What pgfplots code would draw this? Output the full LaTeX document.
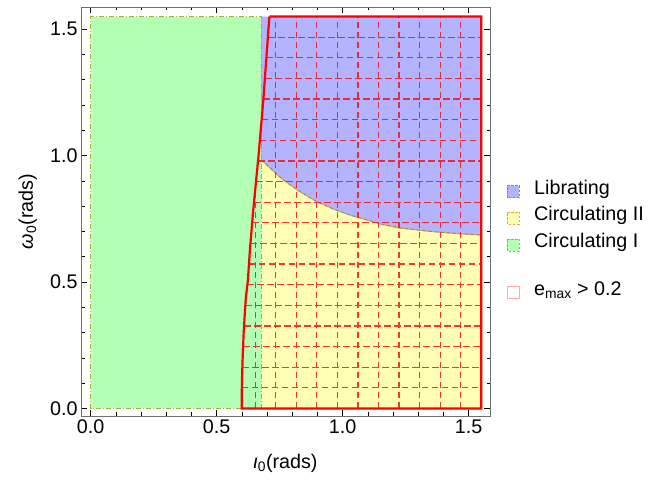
\documentclass[border=0pt]{standalone}
\usepackage{pgfplots}
\pgfplotsset{compat=1.18}
\usepackage{fontspec}
\setmainfont{Liberation Sans}
\definecolor{grn}{RGB}{179,255,179}
\definecolor{blu}{RGB}{179,179,255}
\definecolor{yel}{RGB}{255,255,179}
\definecolor{olive2}{RGB}{165,175,60}
\definecolor{orng}{RGB}{230,165,50}
\definecolor{bluedge}{RGB}{110,130,220}
\definecolor{framegray}{RGB}{110,110,110}
\definecolor{meshred}{RGB}{240,20,30}
\begin{document}
\begin{tikzpicture}[font=\fontsize{19.8}{23}\selectfont]
\useasboundingbox (0,0) rectangle (654bp,483bp);
\begin{axis}[
  at={(81bp,67bp)}, anchor=south west,
  scale only axis, width=409bp, height=409bp,
  xmin=-0.0385, xmax=1.5845, ymin=-0.030, ymax=1.588,
  xtick={0,0.5,1,1.5}, ytick={0,0.5,1,1.5},
  minor tick num=4,
  major tick length=6bp, minor tick length=3.5bp,
  tick style={black, line width=0.6bp},
  axis line style={framegray, line width=0.8bp},
  /pgf/number format/assume math mode=true,
  /pgf/number format/fixed, /pgf/number format/fixed zerofill, /pgf/number format/precision=1,
  xlabel={\textit{ι}\textsubscript{0}(rads)},
  ylabel={\textit{ω}\textsubscript{0}(rads)},
  xlabel style={at={(axis description cs:0.5,-0.115)}, anchor=center},
  ylabel style={at={(axis description cs:-0.13,0.5)}, anchor=center},
  unbounded coords=jump,
]
% Circulating I (green)
\addplot[fill=grn, draw=none] coordinates {(0,0) (0.676,0) (0.676,1.55) (0,1.55)} -- cycle;
% Circulating II (yellow)
\addplot[fill=yel, draw=none] coordinates {
(0.676,0) (1.55,0) (1.55,0.686) (1.45,0.692) (1.35,0.700) (1.227,0.714) (1.161,0.727)
(1.095,0.746) (1.029,0.765) (0.963,0.789) (0.897,0.818) (0.830,0.858) (0.764,0.904)
(0.725,0.939) (0.678,0.983) (0.676,0.983)} -- cycle;
% Librating (blue)
\addplot[fill=blu, draw=none] coordinates {
(0.676,0.983) (0.678,0.983) (0.725,0.939) (0.764,0.904) (0.830,0.858) (0.897,0.818)
(0.963,0.789) (1.029,0.765) (1.095,0.746) (1.161,0.727) (1.227,0.714) (1.35,0.700)
(1.45,0.692) (1.55,0.686) (1.55,1.55) (0.676,1.55)} -- cycle;
% green border
\addplot[olive2, line width=0.9bp, dash pattern=on 5bp off 2bp on 1bp off 2bp] coordinates {(0.676,0) (0,0) (0,1.55) (0.676,1.55) (0.676,0)};
% blue/yellow boundary
\addplot[orng, line width=1.2bp] coordinates {
(0.678,0.983) (0.725,0.939) (0.764,0.904) (0.830,0.858) (0.897,0.818)
(0.963,0.789) (1.029,0.765) (1.095,0.746) (1.161,0.727) (1.227,0.714) (1.35,0.700)
(1.45,0.692) (1.55,0.686)};
\addplot[bluedge, line width=0.8bp, dash pattern=on 3bp off 3bp] coordinates {
(0.678,0.983) (0.725,0.939) (0.764,0.904) (0.830,0.858) (0.897,0.818)
(0.963,0.789) (1.029,0.765) (1.095,0.746) (1.161,0.727) (1.227,0.714) (1.35,0.700)
(1.45,0.692) (1.55,0.686)};
% mesh of e_max > 0.2 region
\addplot[meshred, opacity=0.85, line width=1.2bp, dash pattern=on 6.5bp off 3.5bp] coordinates {
(0.600,0.0816) (1.55,0.0816) (nan,nan)
(0.602,0.1632) (1.55,0.1632) (nan,nan)
(0.605,0.2447) (1.55,0.2447) (nan,nan)
(0.609,0.3263) (1.55,0.3263) (nan,nan)
(0.614,0.4079) (1.55,0.4079) (nan,nan)
(0.621,0.4895) (1.55,0.4895) (nan,nan)
(0.628,0.5711) (1.55,0.5711) (nan,nan)
(0.634,0.6526) (1.55,0.6526) (nan,nan)
(0.641,0.7342) (1.55,0.7342) (nan,nan)
(0.648,0.8158) (1.55,0.8158) (nan,nan)
(0.656,0.8974) (1.55,0.8974) (nan,nan)
(0.664,0.9789) (1.55,0.9789) (nan,nan)
(0.671,1.0605) (1.55,1.0605) (nan,nan)
(0.678,1.1421) (1.55,1.1421) (nan,nan)
(0.685,1.2237) (1.55,1.2237) (nan,nan)
(0.692,1.3053) (1.55,1.3053) (nan,nan)
(0.699,1.3868) (1.55,1.3868) (nan,nan)
(0.704,1.4684) (1.55,1.4684) (nan,nan)
(0.6526,0) (0.6526,0.863) (nan,nan)
(0.7342,0) (0.7342,1.55) (nan,nan)
(0.8158,0) (0.8158,1.55) (nan,nan)
(0.8974,0) (0.8974,1.55) (nan,nan)
(0.9789,0) (0.9789,1.55) (nan,nan)
(1.0605,0) (1.0605,1.55) (nan,nan)
(1.1421,0) (1.1421,1.55) (nan,nan)
(1.2237,0) (1.2237,1.55) (nan,nan)
(1.3053,0) (1.3053,1.55) (nan,nan)
(1.3868,0) (1.3868,1.55) (nan,nan)
(1.4684,0) (1.4684,1.55)
};
% e_max > 0.2 boundary
\addplot[red, line width=2.2bp, line join=miter] coordinates {
(0.709,1.55) (1.55,1.55) (1.55,0) (0.599,0) (0.600,0.1) (0.603,0.2) (0.607,0.3)
(0.615,0.43) (0.624,0.51) (0.632,0.63) (0.645,0.785) (0.666,1.0) (0.685,1.22) (0.709,1.55)};
\end{axis}
% legend
\begin{scope}[line width=0.8bp]
\filldraw[fill=blu, draw=bluedge, dash pattern=on 2.5bp off 1.5bp] (507bp,285.3bp) rectangle (519bp,297.3bp);
\filldraw[fill=yel, draw=orng, dash pattern=on 2.5bp off 1.5bp] (507bp,259bp) rectangle (519bp,271bp);
\filldraw[fill=grn, draw=olive2, dash pattern=on 2.5bp off 1.5bp] (507bp,232bp) rectangle (519bp,244bp);
\filldraw[fill=white, draw={rgb,255:red,255;green,170;blue,170}, line width=1bp] (507bp,184bp) rectangle (519bp,196bp);
\end{scope}
\node[anchor=mid west, inner sep=0pt] at (534bp,291.3bp) {Librating};
\node[anchor=mid west, inner sep=0pt] at (534bp,265bp) {Circulating II};
\node[anchor=mid west, inner sep=0pt] at (534bp,238bp) {Circulating I};
\node[anchor=mid west, inner sep=0pt] at (534bp,190bp) {e\textsubscript{max} > 0.2};
\end{tikzpicture}
\end{document}
